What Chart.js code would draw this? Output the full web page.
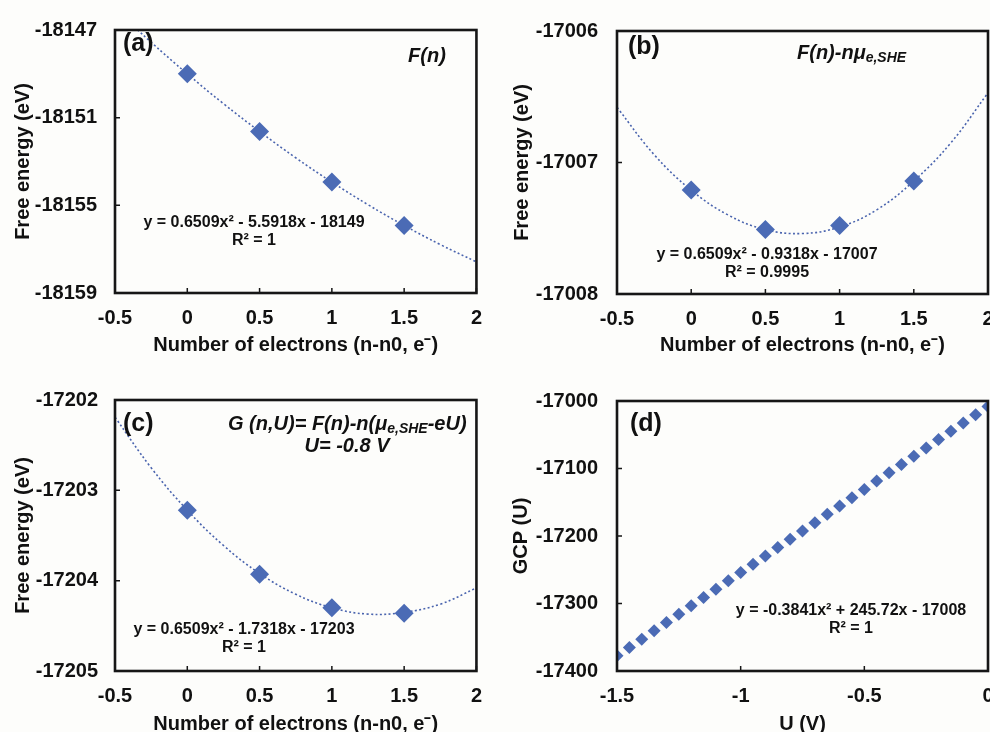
<!DOCTYPE html>
<html>
<head>
<meta charset="utf-8">
<script src="https://cdn.jsdelivr.net/npm/chart.js@4.4.1/dist/chart.umd.min.js"></script>
<style>
  html, body { margin: 0; padding: 0; width: 990px; height: 732px; overflow: hidden; background: #fdfdfb; }
  canvas { position: absolute; }
</style>
</head>
<body>
<canvas id="ca" width="495" height="366" style="left:0;top:0"></canvas>
<canvas id="cb" width="520" height="366" style="left:495px;top:0"></canvas>
<canvas id="cc" width="495" height="380" style="left:0;top:366px"></canvas>
<canvas id="cd" width="520" height="380" style="left:495px;top:366px"></canvas>
<script>
// data
const nElectrons = [0, 0.5, 1, 1.5];
const energyA = [-18149.0, -18151.63, -18153.94, -18155.92];
const energyB = [-17007.21, -17007.51, -17007.48, -17007.14];
const energyC = [-17203.22, -17203.93, -17204.30, -17204.36];

// trendline samples (dotted polynomial fits)
const trendN = [-0.5, -0.25, 0, 0.25, 0.5, 0.75, 1, 1.25, 1.5, 1.75, 2];
const trendA = [-18146.04, -18147.56, -18149.0, -18150.36, -18151.63, -18152.83, -18153.94, -18154.97, -18155.92, -18156.79, -18157.58];
const trendB = [-17006.58, -17006.94, -17007.21, -17007.40, -17007.51, -17007.54, -17007.49, -17007.36, -17007.14, -17006.85, -17006.47];
const trendC = [-17202.19, -17202.75, -17203.22, -17203.61, -17203.92, -17204.15, -17204.30, -17204.37, -17204.35, -17204.26, -17204.08];

// panel (d)
const potentialU = [-1.5, -1.45, -1.4, -1.35, -1.3, -1.25, -1.2, -1.15, -1.1, -1.05, -1.0,
  -0.95, -0.9, -0.85, -0.8, -0.75, -0.7, -0.65, -0.6, -0.55, -0.5,
  -0.45, -0.4, -0.35, -0.3, -0.25, -0.2, -0.15, -0.1, -0.05, 0];
const gcp = [-17377.4, -17365.1, -17352.8, -17340.4, -17328.1, -17315.8, -17303.4, -17291.1, -17278.8, -17266.4, -17254.1,
  -17241.8, -17229.5, -17217.1, -17204.8, -17192.5, -17180.2, -17167.9, -17155.6, -17143.3, -17131.0,
  -17118.7, -17106.4, -17094.1, -17081.8, -17069.5, -17057.2, -17044.9, -17032.6, -17020.3, -17008.0];

// tick labels
const nTicks = [-0.5, 0, 0.5, 1, 1.5, 2];
const uTicks = [-1.5, -1, -0.5, 0];
const yTicksA = [-18159, -18155, -18151, -18147];
const yTicksB = [-17008, -17007, -17006];
const yTicksC = [-17205, -17204, -17203, -17202];
const yTicksD = [-17400, -17300, -17200, -17100, -17000];

const FONT = '"Liberation Sans", Arial, sans-serif';
const BLUE = '#4b6bb5';
const TREND = '#4a64ae';
Chart.defaults.font.family = FONT;
Chart.defaults.color = '#111';

// frame, inward ticks and text notes
const framePlugin = {
  id: 'frame',
  afterDraw(chart, args, opts) {
    const { ctx, chartArea: a, scales } = chart;
    ctx.save();
    ctx.strokeStyle = '#161616';
    ctx.lineWidth = 1.5;
    ctx.beginPath();
    scales.x.ticks.forEach(t => {
      const px = scales.x.getPixelForValue(t.value);
      ctx.moveTo(px, a.bottom); ctx.lineTo(px, a.bottom - 5);
    });
    scales.y.ticks.forEach(t => {
      const py = scales.y.getPixelForValue(t.value);
      ctx.moveTo(a.left, py); ctx.lineTo(a.left + 5, py);
    });
    ctx.stroke();
    ctx.lineWidth = 2.6;
    ctx.strokeRect(a.left, a.top, a.right - a.left, a.bottom - a.top);

    ctx.fillStyle = '#111';
    ctx.textBaseline = 'middle';
    ctx.textAlign = 'left';
    (opts.notes || []).forEach(n => {
      let w = 0;
      n.runs.forEach(r => { ctx.font = r.f; w += ctx.measureText(r.t).width; });
      let x = n.align === 'center' ? n.x - w / 2 : n.x;
      n.runs.forEach(r => {
        ctx.font = r.f;
        ctx.fillText(r.t, x, n.y + (r.dy || 0));
        x += ctx.measureText(r.t).width;
      });
    });
    ctx.restore();
  }
};

const B = s => 'bold ' + s + 'px ' + FONT;
const IB = s => 'italic bold ' + s + 'px ' + FONT;

function panel(id, o) {
  const datasets = [];
  if (o.trendY) {
    datasets.push({
      data: o.trendX.map((x, i) => ({ x: x, y: o.trendY[i] })),
      showLine: true, pointRadius: 0, borderColor: TREND, borderWidth: 1.6,
      borderDash: [2, 2.4], tension: 0.4, order: 2
    });
  }
  datasets.push({
    data: o.px.map((x, i) => ({ x: x, y: o.py[i] })),
    pointStyle: 'rectRot', pointRadius: o.r, pointHoverRadius: o.r,
    backgroundColor: BLUE, borderColor: BLUE, borderWidth: 0, showLine: false, order: 1
  });
  new Chart(document.getElementById(id), {
    type: 'scatter',
    data: { datasets: datasets },
    options: {
      responsive: false,
      animation: false,
      layout: { padding: o.pad },
      plugins: { legend: { display: false }, tooltip: { enabled: false }, frame: { notes: o.notes } },
      scales: {
        x: {
          min: o.xTicks[0], max: o.xTicks[o.xTicks.length - 1],
          afterBuildTicks: s => { s.ticks = o.xTicks.map(v => ({ value: v })); },
          ticks: { padding: 13, font: { size: 20, weight: 'bold' }, color: '#111', maxRotation: 0, callback: v => String(v) },
          grid: { display: false, drawTicks: false }, border: { display: false },
          title: { display: true, text: o.xTitle, font: { size: 20, weight: 'bold' }, color: '#111', padding: { top: 0, bottom: o.xtPad } },
          afterFit: s => { s.height = o.xh; }
        },
        y: {
          min: o.yTicks[0], max: o.yTicks[o.yTicks.length - 1],
          afterBuildTicks: s => { s.ticks = o.yTicks.map(v => ({ value: v })); },
          ticks: { padding: o.ytkPad, font: { size: 20, weight: 'bold' }, color: '#111', callback: v => String(v) },
          grid: { display: false, drawTicks: false }, border: { display: false },
          title: { display: true, text: o.yTitle, font: { size: 20, weight: 'bold' }, color: '#111', padding: { top: o.ytPad, bottom: 0 } },
          afterFit: s => { s.width = o.yw; }
        }
      }
    },
    plugins: [framePlugin]
  });
}

const eNote = (x, y, t) => ({ x: x, y: y, align: 'center', runs: [{ t: t, f: B(16) }] });

panel('ca', {
  px: nElectrons, py: energyA, r: 9.5, trendX: trendN, trendY: trendA,
  xTicks: nTicks, yTicks: yTicksA,
  xTitle: 'Number of electrons (n-n0, e\u207B)', yTitle: 'Free energy (eV)',
  pad: { top: 23, right: 6, left: 0, bottom: 0 }, yw: 115, xh: 73, xtPad: 9, ytPad: 11, ytkPad: 18,
  notes: [
    { x: 123, y: 44, runs: [{ t: '(a)', f: B(25) }] },
    { x: 427, y: 56, align: 'center', runs: [{ t: 'F(n)', f: IB(20) }] },
    eNote(254, 223, 'y = 0.6509x\u00B2 - 5.5918x - 18149'),
    eNote(254, 241, 'R\u00B2 = 1')
  ]
});

panel('cb', {
  px: nElectrons, py: energyB, r: 9.5, trendX: trendN, trendY: trendB,
  xTicks: nTicks, yTicks: yTicksB,
  xTitle: 'Number of electrons (n-n0, e\u207B)', yTitle: 'Free energy (eV)',
  pad: { top: 23, right: 27, left: 0, bottom: 0 }, yw: 122, xh: 72, xtPad: 9, ytPad: 15, ytkPad: 19,
  notes: [
    { x: 133, y: 47, runs: [{ t: '(b)', f: B(25) }] },
    { x: 302, y: 53, runs: [{ t: 'F(n)-n\u03BC', f: IB(20) }, { t: 'e,SHE', f: IB(14), dy: 5 }] },
    eNote(272, 255, 'y = 0.6509x\u00B2 - 0.9318x - 17007'),
    eNote(272, 273, 'R\u00B2 = 0.9995')
  ]
});

panel('cc', {
  px: nElectrons, py: energyC, r: 9.5, trendX: trendN, trendY: trendC,
  xTicks: nTicks, yTicks: yTicksC,
  xTitle: 'Number of electrons (n-n0, e\u207B)', yTitle: 'Free energy (eV)',
  pad: { top: 34, right: 6, left: 0, bottom: 0 }, yw: 115, xh: 75, xtPad: 10, ytPad: 11, ytkPad: 17,
  notes: [
    { x: 123, y: 58, runs: [{ t: '(c)', f: B(25) }] },
    { x: 228, y: 58, runs: [{ t: 'G (n,U)= F(n)-n(\u03BC', f: IB(20) }, { t: 'e,SHE', f: IB(14), dy: 5 }, { t: '-eU)', f: IB(20) }] },
    { x: 347, y: 80, align: 'center', runs: [{ t: 'U= -0.8 V', f: IB(20) }] },
    eNote(244, 264, 'y = 0.6509x\u00B2 - 1.7318x - 17203'),
    eNote(244, 282, 'R\u00B2 = 1')
  ]
});

panel('cd', {
  px: potentialU, py: gcp, r: 6.5,
  xTicks: uTicks, yTicks: yTicksD,
  xTitle: 'U (V)', yTitle: 'GCP (U)',
  pad: { top: 35, right: 27, left: 0, bottom: 0 }, yw: 122, xh: 75, xtPad: 10, ytPad: 14, ytkPad: 19,
  notes: [
    { x: 135, y: 58, runs: [{ t: '(d)', f: B(25) }] },
    eNote(356, 245, 'y = -0.3841x\u00B2 + 245.72x - 17008'),
    eNote(356, 263, 'R\u00B2 = 1')
  ]
});
</script>
</body>
</html>
